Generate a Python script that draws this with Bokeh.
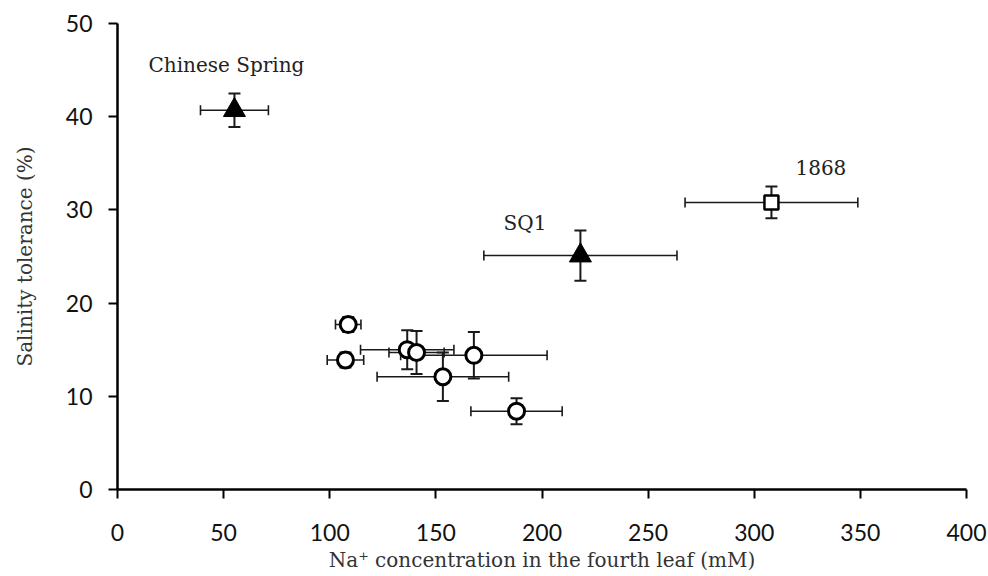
from bokeh.plotting import figure
from bokeh.models import ColumnDataSource, Whisker, TeeHead, Range1d, FixedTicker, Label
from bokeh.embed import file_html
from bokeh.resources import INLINE

# Circles (other genotypes)
circ_x = [108.7, 107.4, 136.5, 140.9, 167.9, 153.3, 188.0]
circ_y = [17.7, 13.9, 15.0, 14.7, 14.4, 12.1, 8.4]
circ_xerr = [6.0, 8.6, 22.0, 13.0, 34.5, 31.0, 21.5]
circ_yerr = [0.8, 0.8, 2.1, 2.3, 2.5, 2.6, 1.4]

# Triangles (Chinese Spring, SQ1)
tri_x = [55.1, 218.1]
tri_y = [40.7, 25.1]
tri_xerr = [16.0, 45.5]
tri_yerr = [1.8, 2.7]

# Square (1868)
sq_x = [308.1]
sq_y = [30.8]
sq_xerr = [40.7]
sq_yerr = [1.7]

labels = ["Chinese Spring", "SQ1", "1868"]
label_x = [14.6, 181.9, 319.4]
label_y = [45.5, 28.6, 34.5]

x_ticks = [0, 50, 100, 150, 200, 250, 300, 350, 400]
y_ticks = [0, 10, 20, 30, 40, 50]

p = figure(width=988, height=576, output_backend="svg", toolbar_location=None,
           x_range=Range1d(0, 400), y_range=Range1d(0, 50),
           min_border_left=117, min_border_right=22, min_border_top=23, min_border_bottom=87)
p.outline_line_color = None
p.grid.visible = False
p.background_fill_color = "white"
p.border_fill_color = "white"


def add_errors(xs, ys, xe, ye):
    src = ColumnDataSource(dict(
        x=xs, y=ys,
        xl=[a - b for a, b in zip(xs, xe)], xu=[a + b for a, b in zip(xs, xe)],
        yl=[a - b for a, b in zip(ys, ye)], yu=[a + b for a, b in zip(ys, ye)]))
    wh = Whisker(source=src, base="y", lower="xl", upper="xu", dimension="width",
                 line_color="#1a1a1a", line_width=1.6,
                 lower_head=TeeHead(size=10, line_color="#1a1a1a", line_width=1.6),
                 upper_head=TeeHead(size=10, line_color="#1a1a1a", line_width=1.6))
    wv = Whisker(source=src, base="x", lower="yl", upper="yu", dimension="height",
                 line_color="#1a1a1a", line_width=2,
                 lower_head=TeeHead(size=12, line_color="#1a1a1a", line_width=2),
                 upper_head=TeeHead(size=12, line_color="#1a1a1a", line_width=2))
    p.add_layout(wh)
    p.add_layout(wv)
    return src


s1 = add_errors(circ_x, circ_y, circ_xerr, circ_yerr)
s2 = add_errors(tri_x, tri_y, tri_xerr, tri_yerr)
s3 = add_errors(sq_x, sq_y, sq_xerr, sq_yerr)

p.scatter("x", "y", source=s1, marker="circle", size=16, fill_color="white",
          line_color="black", line_width=3)
p.scatter("x", "y", source=s2, marker="triangle", size=22, fill_color="black",
          line_color="black", line_width=1)
p.scatter("x", "y", source=s3, marker="square", size=14, fill_color="white",
          line_color="black", line_width=2.5)

for t, lx, ly in zip(labels, label_x, label_y):
    p.add_layout(Label(x=lx, y=ly, text=t, text_font="DejaVu Serif",
                       text_font_size="20px", text_color="#222222",
                       text_baseline="middle", text_align="left"))

for ax in (p.xaxis[0], p.yaxis[0]):
    ax.axis_line_color = "black"
    ax.axis_line_width = 2.5
    ax.major_tick_line_color = "black"
    ax.major_tick_line_width = 2
    ax.major_tick_out = 9
    ax.major_tick_in = 0
    ax.minor_tick_line_color = None
    ax.major_label_text_font = "Lato"
    ax.major_label_text_font_size = "23px"
    ax.major_label_text_color = "#111111"
    ax.axis_label_text_font = "DejaVu Serif"
    ax.axis_label_text_font_style = "normal"
    ax.axis_label_text_color = "#333333"

p.xaxis.axis_label_text_font_size = "20px"
p.yaxis.axis_label_text_font_size = "20px"
p.xaxis.ticker = FixedTicker(ticks=x_ticks)
p.yaxis.ticker = FixedTicker(ticks=y_ticks)
p.xaxis.major_label_standoff = 25
p.yaxis.major_label_standoff = 16
p.xaxis.axis_label = "Na⁺ concentration in the fourth leaf (mM)"
p.yaxis.axis_label = "Salinity tolerance (%)"
p.xaxis.axis_label_standoff = 4
p.yaxis.axis_label_standoff = 26

open("out.html", "w").write(file_html(p, INLINE))
